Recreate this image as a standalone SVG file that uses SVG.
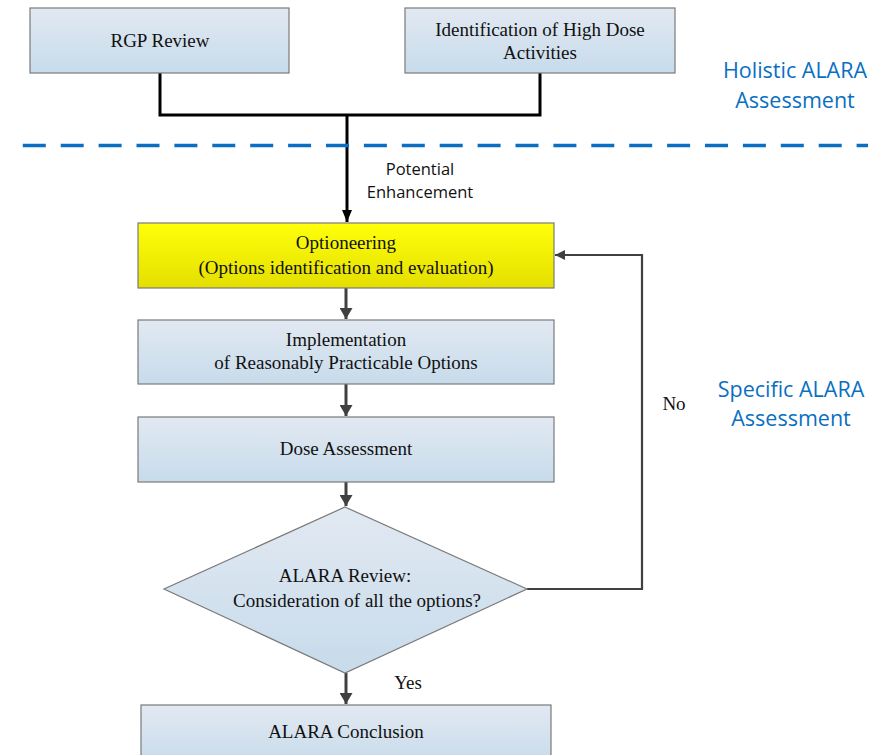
<svg xmlns="http://www.w3.org/2000/svg" width="892" height="755" viewBox="0 0 892 755">
<defs>
<linearGradient id="gBlue" x1="0" y1="0" x2="0" y2="1">
<stop offset="0" stop-color="#e2e9f2"/>
<stop offset="1" stop-color="#c7dbeb"/>
</linearGradient>
<linearGradient id="gYellow" x1="0" y1="0" x2="0" y2="1">
<stop offset="0" stop-color="#ffff0a"/>
<stop offset="1" stop-color="#e4df00"/>
</linearGradient>
<marker id="arrBlack" viewBox="0 0 12 10" refX="12" refY="5" markerWidth="12" markerHeight="10" markerUnits="userSpaceOnUse" orient="auto">
<path d="M0,0 L12,5 L0,10 Z" fill="#000"/>
</marker>
<marker id="arrGrey" viewBox="0 0 11 13" refX="11" refY="6.5" markerWidth="11" markerHeight="13" markerUnits="userSpaceOnUse" orient="auto">
<path d="M0,0 L11,6.5 L0,13 Z" fill="#404040"/>
</marker>
<marker id="arrGreySmall" viewBox="0 0 10 10" refX="10" refY="5" markerWidth="10" markerHeight="10" markerUnits="userSpaceOnUse" orient="auto">
<path d="M0,0 L10,5 L0,10 Z" fill="#404040"/>
</marker>
</defs>
<style>
.box{fill:url(#gBlue);stroke:#7a7a7a;stroke-width:1.2}
.ybox{fill:url(#gYellow);stroke:#7a7a7a;stroke-width:1.2}
.t{font-family:"Liberation Serif","Times New Roman",serif;font-size:19px;fill:#111;text-anchor:middle}
.s{font-family:"Open Sans","Liberation Sans",sans-serif;text-anchor:middle}
.blue{fill:#0a6fc2;font-size:21.5px}
.lbl{fill:#111;font-size:16.5px}
.blk{fill:none;stroke:#000;stroke-width:3}
.gry{fill:none;stroke:#404040;stroke-width:3}
.loop{fill:none;stroke:#404040;stroke-width:2.2}
</style>
<rect width="892" height="755" fill="#fff"/>

<g id="connectors">
<path class="blk" d="M160,73 V115 H540 V73"/>
<path class="blk" d="M347,115 V222" marker-end="url(#arrBlack)"/>
<path class="gry" d="M346,288 V319" marker-end="url(#arrGrey)"/>
<path class="gry" d="M346,384 V416" marker-end="url(#arrGrey)"/>
<path class="gry" d="M346,482 V506" marker-end="url(#arrGrey)"/>
<path class="gry" d="M346,673 V704" marker-end="url(#arrGrey)"/>
<path class="loop" d="M527,589 H642 V255 H555" marker-end="url(#arrGreySmall)"/>
<text class="s lbl" x="420" y="175">Potential</text>
<text class="s lbl" x="420" y="198">Enhancement</text>
<text class="t" x="674" y="410">No</text>
<text class="t" x="408" y="689">Yes</text>
</g>

<g id="divider">
<line x1="22.8" y1="145.5" x2="868" y2="145.5" stroke="#0a6fc2" stroke-width="3.5" stroke-dasharray="23 14.9"/>
</g>

<g id="label-holistic">
<text class="s blue" x="795" y="78">Holistic ALARA</text>
<text class="s blue" x="795" y="108">Assessment</text>
</g>

<g id="label-specific">
<text class="s blue" x="791" y="397">Specific ALARA</text>
<text class="s blue" x="791" y="426">Assessment</text>
</g>

<g id="rgp-review">
<rect class="box" x="30" y="8" width="259" height="65"/>
<text class="t" x="160" y="47">RGP Review</text>
</g>

<g id="high-dose">
<rect class="box" x="405" y="8" width="270" height="65"/>
<text class="t" x="540" y="36">Identification of High Dose</text>
<text class="t" x="540" y="59">Activities</text>
</g>

<g id="optioneering">
<rect class="ybox" x="138" y="223" width="416" height="65"/>
<text class="t" x="346" y="249">Optioneering</text>
<text class="t" x="346" y="274">(Options identification and evaluation)</text>
</g>

<g id="implementation">
<rect class="box" x="138" y="320" width="416" height="64"/>
<text class="t" x="346" y="346">Implementation</text>
<text class="t" x="346" y="369">of Reasonably Practicable Options</text>
</g>

<g id="dose-assessment">
<rect class="box" x="138" y="417" width="416" height="65"/>
<text class="t" x="346" y="455">Dose Assessment</text>
</g>

<g id="alara-review">
<polygon class="box" points="345,507 527,589 345,673 164,589"/>
<text class="t" x="345" y="582">ALARA Review:</text>
<text class="t" x="357" y="607">Consideration of all the options?</text>
</g>

<g id="alara-conclusion">
<rect class="box" x="141" y="705" width="410" height="60"/>
<text class="t" x="346" y="738">ALARA Conclusion</text>
</g>
</svg>
